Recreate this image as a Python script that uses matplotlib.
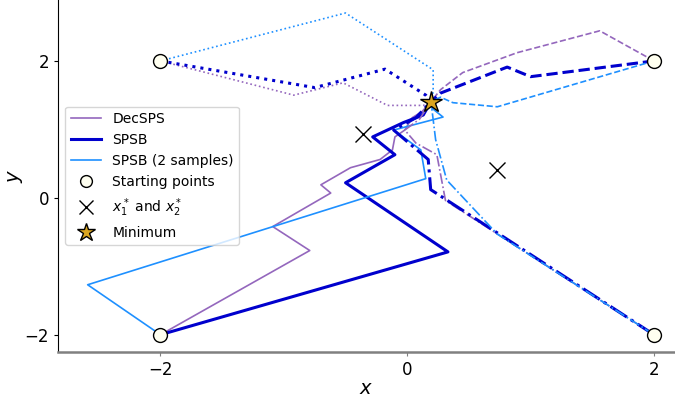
import matplotlib
matplotlib.use('Agg')
import matplotlib.pyplot as plt
import numpy as np

# start points, optimum points
starts_x = [-2, 2, -2, 2]
starts_y = [2, 2, -2, -2]
xstar_x = [-0.36, 0.73]
xstar_y = [0.93, 0.41]
min_x = [0.194]
min_y = [1.40]

# trajectories, one per start point: (-2,2), (2,2), (-2,-2), (2,-2)
dec_x = [
    [-2, -0.92, -0.52, -0.16, 0.13, 0.19],
    [2, 1.56, 0.89, 0.45, 0.27, 0.19],
    [-2, -0.79, -1.09, -0.62, -0.70, -0.46, -0.22, -0.12, -0.10, -0.02, 0.04, 0.12, 0.19],
    [2, 0.31, 0.24, 0.07, -0.02, 0.10, 0.19],
]
dec_y = [
    [2, 1.50, 1.68, 1.35, 1.35, 1.40],
    [2, 2.44, 2.12, 1.83, 1.58, 1.40],
    [-2, -0.77, -0.42, 0.07, 0.19, 0.44, 0.56, 0.70, 0.89, 0.99, 1.17, 1.26, 1.40],
    [-2, -0.04, 0.63, 0.80, 0.99, 1.15, 1.40],
]
spsb_x = [
    [-2, -0.75, -0.18, 0.15, 0.19],
    [2, 1.00, 0.81, 0.27, 0.19],
    [-2, 0.33, -0.50, -0.10, -0.28, -0.03, 0.13, 0.19],
    [2, 0.19, 0.17, -0.11, 0.07, 0.19],
]
spsb_y = [
    [2, 1.61, 1.88, 1.50, 1.40],
    [2, 1.77, 1.91, 1.53, 1.40],
    [-2, -0.79, 0.22, 0.63, 0.89, 1.10, 1.21, 1.40],
    [-2, 0.12, 0.56, 0.99, 1.17, 1.40],
]
spsb2_x = [
    [-2, -0.50, 0.21, 0.21, 0.19],
    [2, 0.73, 0.37, 0.27, 0.19],
    [-2, -2.59, 0.15, 0.11, -0.11, 0.29, 0.20, 0.19],
    [2, 0.73, 0.32, 0.23, 0.20, 0.19],
]
spsb2_y = [
    [2, 2.70, 1.87, 1.55, 1.40],
    [2, 1.33, 1.39, 1.47, 1.40],
    [-2, -1.27, 0.28, 0.70, 0.99, 1.18, 1.31, 1.40],
    [-2, -0.53, 0.26, 0.85, 1.29, 1.40],
]

styles = [':', '--', '-', '-.']

fig = plt.figure(figsize=(6.75, 3.98), dpi=100)
ax = fig.add_axes([0.086, 0.116, 0.914, 0.884])

for i in range(4):
    ax.plot(dec_x[i], dec_y[i], ls=styles[i], color='tab:purple', lw=1.2,
            label='DecSPS' if i == 2 else None)
    ax.plot(spsb_x[i], spsb_y[i], ls=styles[i], color='mediumblue', lw=2.2,
            label='SPSB' if i == 2 else None)
    ax.plot(spsb2_x[i], spsb2_y[i], ls=styles[i], color='dodgerblue', lw=1.2,
            label='SPSB (2 samples)' if i == 2 else None)

ax.plot(starts_x, starts_y, 'o', ms=10, mfc='ivory', mec='black', ls='none',
        label='Starting points', zorder=5)
ax.plot(xstar_x, xstar_y, 'x', ms=12, color='black', mew=1, ls='none',
        label='$x_1^*$ and $x_2^*$', zorder=5)
ax.plot(min_x, min_y, '*', ms=16, mfc='goldenrod', mec='black', ls='none',
        label='Minimum', zorder=6)

ax.set_xlim(-2.83, 2.17)
ax.set_ylim(-2.25, 2.89)
ax.set_xticks([-2, 0, 2])
ax.set_yticks([-2, 0, 2])
ax.tick_params(labelsize=12, length=3)
ax.tick_params(axis='x', color='gray')
ax.spines['top'].set_visible(False)
ax.spines['right'].set_visible(False)
ax.spines['bottom'].set_color('gray')
ax.spines['bottom'].set_linewidth(1.8)
ax.set_xlabel('$x$', fontsize=14, labelpad=0)
ax.set_ylabel('$y$', fontsize=14, labelpad=0)
ax.legend(loc='center left', fontsize=10, bbox_to_anchor=(0.0, 0.5),
          markerscale=0.85, handlelength=2.2)

fig.savefig('out.png', dpi=100)
